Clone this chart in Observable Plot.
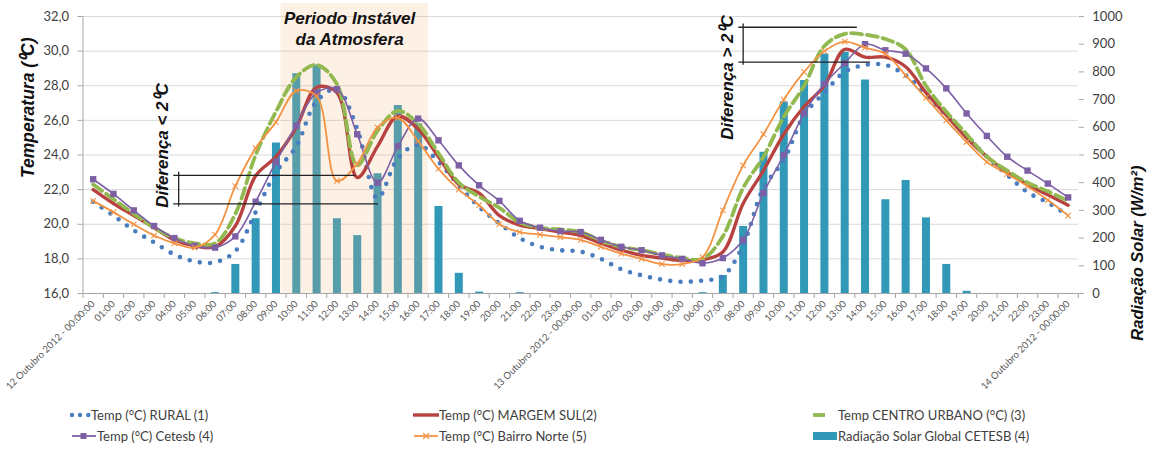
<!DOCTYPE html>
<html><head><meta charset="utf-8">
<script src="https://cdn.jsdelivr.net/npm/d3@7"></script>
<script src="https://cdn.jsdelivr.net/npm/@observablehq/plot@0.6"></script>
<style>
body{margin:0;background:#fff;font-family:Lato,sans-serif;}
#wrap{position:relative;width:1160px;height:453px;overflow:hidden;}
#legend{position:absolute;left:0;top:400px;width:1160px;height:53px;font-size:13px;color:#404040;}
.item{position:absolute;display:flex;align-items:center;white-space:nowrap;height:16px;line-height:16px;}
.item svg{display:block;flex:none;}
</style></head><body><div id="wrap"><div id="chart"></div><div id="legend"></div></div>
<script>
// ---- data ----
const xLabels = ["12 Outubro 2012 - 00:00:00","01:00","02:00","03:00","04:00","05:00","06:00","07:00","08:00","09:00","10:00","11:00","12:00","13:00","14:00","15:00","16:00","17:00","18:00","19:00","20:00","21:00","22:00","23:00",
"13 Outubro 2012 - 00:00:00","01:00","02:00","03:00","04:00","05:00","06:00","07:00","08:00","09:00","10:00","11:00","12:00","13:00","14:00","15:00","16:00","17:00","18:00","19:00","20:00","21:00","22:00","23:00",
"14 Outubro 2012 - 00:00:00"];
const rural = [21.3,20.5,19.65,18.95,18.25,17.85,17.8,18.45,20.7,23.0,24.5,27.1,27.8,25.5,21.5,23.8,24.6,23.6,22.25,21.0,20.05,19.2,18.7,18.5,18.42,18.0,17.4,17.05,16.8,16.68,16.75,17.0,18.8,22.1,23.7,26.3,27.6,28.8,29.2,29.2,28.6,27.5,26.3,25.1,23.9,22.85,21.85,21.25,20.5];
const margemSul = [22.0,21.2,20.5,19.8,19.1,18.75,18.7,19.9,22.8,23.9,25.6,27.9,27.6,22.7,24.5,26.25,25.5,23.9,22.3,21.8,20.5,19.95,19.75,19.55,19.35,18.9,18.5,18.2,18.05,17.9,17.95,18.4,21.2,23.1,25.2,26.8,28.0,30.1,29.65,29.65,29.1,27.6,26.3,25.0,23.9,23.0,22.3,21.7,21.1];
const centroUrbano = [22.3,21.45,20.6,19.8,19.2,18.9,18.9,20.6,24.0,26.5,28.5,29.2,28.1,23.4,25.4,26.55,25.8,24.1,22.4,21.6,20.95,20.1,19.8,19.7,19.55,19.05,18.7,18.5,18.25,18.05,18.0,19.3,22.1,23.9,26.2,28.0,30.3,31.0,30.95,30.7,30.1,28.0,26.5,25.2,23.9,23.1,22.4,21.9,21.35];
const cetesb = [22.6,21.75,20.8,19.9,19.2,18.75,18.65,19.3,21.3,23.6,25.7,27.6,27.8,25.2,22.4,24.5,26.1,24.85,23.4,22.25,21.35,20.2,19.8,19.6,19.55,19.1,18.7,18.5,18.2,18.0,17.75,18.05,19.1,21.8,24.0,26.4,28.1,29.3,30.4,30.05,29.85,29.0,27.85,26.4,25.1,23.9,23.1,22.35,21.55];
const bairroNorte = [21.35,20.7,20.0,19.35,18.9,18.65,19.4,22.2,24.4,25.9,27.7,27.4,22.5,23.5,25.6,26.15,24.8,23.2,22.0,21.1,20.0,19.55,19.4,19.25,19.1,18.7,18.3,18.0,17.7,17.7,18.1,20.8,23.4,25.2,27.2,28.8,30.0,30.55,30.2,29.85,28.6,27.3,26.0,24.75,23.6,22.9,22.2,21.4,20.5];
const radiacao = [0,0,0,0,0,0,3,105,270,543,793,825,270,209,432,679,613,314,73,5,0,3,0,0,0,0,0,0,0,0,3,65,242,510,691,769,865,871,771,338,408,273,105,8,0,0,0,0,0];
const tempTicks = [16,18,20,22,24,26,28,30,32];
const radTicks = [0,100,200,300,400,500,600,700,800,900,1000];
const tempDomain = [16, 32];
const radDomain = [0, 1000];
// annotations (in hours since start / °C)
const unstablePeriod = [9.25, 16.5];
const unstableLabel = "Periodo Instável\nda Atmosfera";
const diffSmall = {label: "Diferença < 2⁰C", start: 3.97, bracket: 4.21, upper: 22.82, upperEnd: 12.92, lower: 21.18, lowerEnd: 14.05, textX: 3.41, textY: 24.55};
const diffLarge = {label: "Diferença > 2⁰C", start: 31.79, bracket: 32.0, upper: 31.38, upperEnd: 37.62, lower: 29.36, lowerEnd: 38.27, textX: 31.22, textY: 28.48};

const colors = {rural:"#4a7dbf", sul:"#b8423f", centro:"#92b850", cetesb:"#7d5fa6", norte:"#f39343", rad:"#3198b7"};

const radToT = r => tempDomain[0] + (r - radDomain[0]) * (tempDomain[1] - tempDomain[0]) / (radDomain[1] - radDomain[0]);
const tToRad = t => radDomain[0] + (t - tempDomain[0]) * (radDomain[1] - radDomain[0]) / (tempDomain[1] - tempDomain[0]);

const data = xLabels.map((label, i) => ({i, label, rural: rural[i], sul: margemSul[i], centro: centroUrbano[i], cetesb: cetesb[i], norte: bairroNorte[i], rad: radiacao[i]}));
const boundaries = [-0.5, ...xLabels.map((_, i) => i + 0.5)];

const annFont = {fontFamily: "Liberation Sans, Arial, sans-serif", fontWeight: "bold", fontStyle: "italic", fontSize: 17, fill: "#111"};
const bracketRules = d => [
  Plot.ruleY([d], {y: "upper", x1: "start", x2: "upperEnd", stroke: "#222", strokeWidth: 1.3}),
  Plot.ruleY([d], {y: "lower", x1: "start", x2: "lowerEnd", stroke: "#222", strokeWidth: 1.3}),
  Plot.ruleX([d], {x: "bracket", y1: r => r.upper + 0.18, y2: r => r.lower - 0.18, stroke: "#222", strokeWidth: 1.3}),
  Plot.text([d], {x: "textX", y: "textY", text: "label", rotate: -90, ...annFont})
];

const chart = Plot.plot({
  width: 1160, height: 400,
  marginTop: 16, marginBottom: 107, marginLeft: 82.5, marginRight: 82.2,
  style: {fontFamily: "Lato, sans-serif", background: "white", overflow: "visible"},
  x: {type: "linear", domain: [-0.5, xLabels.length - 0.5], axis: null},
  y: {domain: tempDomain, axis: null},
  marks: [
    Plot.gridY(tempTicks, {stroke: "#d9d9d9", strokeOpacity: 1, strokeWidth: 1}),
    Plot.ruleX(data.filter(d => d.rad > 0), {x: "i", y1: tempDomain[0], y2: d => radToT(d.rad), stroke: colors.rad, strokeWidth: 8}),
    Plot.rect([unstablePeriod], {x1: d => d[0], x2: d => d[1], insetTop: -13, fill: "#f5b478", fillOpacity: 0.2}),
    Plot.line(data, {x: "i", y: "rural", curve: "catmull-rom", stroke: colors.rural, strokeWidth: 4.6, strokeDasharray: "0,10.3", strokeLinecap: "round"}),
    Plot.line(data, {x: "i", y: "sul", curve: "catmull-rom", stroke: colors.sul, strokeWidth: 3.4}),
    Plot.line(data, {x: "i", y: "centro", curve: "catmull-rom", stroke: colors.centro, strokeWidth: 3.8, strokeDasharray: "11,5"}),
    Plot.line(data, {x: "i", y: "cetesb", curve: "catmull-rom", stroke: colors.cetesb, strokeWidth: 1.6}),
    Plot.dot(data, {x: "i", y: "cetesb", symbol: "square", r: 3.6, fill: colors.cetesb, stroke: "none"}),
    Plot.line(data, {x: "i", y: "norte", curve: "catmull-rom", stroke: colors.norte, strokeWidth: 1.8}),
    Plot.dot(data, {x: "i", y: "norte", symbol: "times", r: 2.6, stroke: colors.norte, strokeWidth: 1.1}),
    ...bracketRules(diffSmall),
    ...bracketRules(diffLarge),
    Plot.text([unstableLabel], {x: (unstablePeriod[0] + unstablePeriod[1]) / 2 - 0.25, frameAnchor: "top", dy: 11, lineAnchor: "middle", lineHeight: 1.27, ...annFont}),
    Plot.ruleX([-0.5], {stroke: "#a6a6a6"}),
    Plot.ruleY([tempDomain[0]], {stroke: "#a6a6a6"}),
    Plot.axisY(tempTicks, {anchor: "left", tickFormat: d => d.toFixed(1).replace(".", ","), tickSize: 5, tickPadding: 9, fontSize: 13, stroke: "#a6a6a6", fill: "#404040"}),
    Plot.axisY(radTicks.map(radToT), {anchor: "right", tickFormat: t => String(Math.round(tToRad(t))), tickSize: 5, tickPadding: 9, fontSize: 13, stroke: "#a6a6a6", fill: "#404040"}),
    Plot.axisX(boundaries, {anchor: "bottom", tickFormat: () => "", tickSize: 5, stroke: "#a6a6a6"}),
    Plot.axisX(data.map(d => d.i), {anchor: "bottom", tickFormat: i => xLabels[i], tickRotate: -45, tickSize: 0, tickPadding: 9, fontSize: 9.6, fill: "#595959"}),
    Plot.text(["Temperatura (⁰C)"], {frameAnchor: "left", dx: -54.5, dy: 23, rotate: -90, ...annFont, fontSize: 17.5}),
    Plot.text(["Radiação Solar (W/m²)"], {frameAnchor: "right", dx: 59, dy: 10.5, rotate: -90, ...annFont, fontSize: 16.5})
  ]
});
document.getElementById("chart").appendChild(chart);

// ---- legend ----
const legendItems = [
  {left: 69, row: 0, text: "Temp (°C) RURAL (1)", sym: `<svg width="22" height="10"><circle cx="3" cy="5" r="2.2" fill="${colors.rural}"/><circle cx="11" cy="5" r="2.2" fill="${colors.rural}"/><circle cx="19.3" cy="5" r="2.2" fill="${colors.rural}"/></svg>`},
  {left: 72, row: 1, text: "Temp (°C) Cetesb (4)", sym: `<svg width="25" height="10"><line x1="0" y1="5" x2="24" y2="5" stroke="${colors.cetesb}" stroke-width="1.8"/><rect x="8.5" y="2" width="6" height="6" fill="${colors.cetesb}"/></svg>`},
  {left: 413, row: 0, text: "Temp (°C) MARGEM SUL(2)", sym: `<svg width="26" height="10"><line x1="0" y1="5" x2="26" y2="5" stroke="${colors.sul}" stroke-width="3.4"/></svg>`},
  {left: 414, row: 1, text: "Temp (°C) Bairro Norte (5)", sym: `<svg width="25" height="10"><line x1="0" y1="5" x2="24" y2="5" stroke="${colors.norte}" stroke-width="1.8"/><path d="M9,2L15,8M15,2L9,8" stroke="${colors.norte}" stroke-width="1.2"/></svg>`},
  {left: 813, row: 0, text: "Temp CENTRO URBANO (°C) (3)", sym: `<svg width="25" height="10"><line x1="0" y1="5" x2="12" y2="5" stroke="${colors.centro}" stroke-width="3.8"/></svg>`},
  {left: 813, row: 1, text: "Radiação Solar Global CETESB (4)", sym: `<svg width="25" height="10"><rect x="0" y="1" width="24" height="8" fill="${colors.rad}"/></svg>`}
];
const rowCenters = [15, 36];
const legend = document.getElementById("legend");
for (const it of legendItems) {
  const div = document.createElement("div");
  div.className = "item";
  div.style.left = it.left + "px";
  div.style.top = (rowCenters[it.row] - 8) + "px";
  div.innerHTML = it.sym + `<span>${it.text}</span>`;
  legend.appendChild(div);
}
</script></body></html>
